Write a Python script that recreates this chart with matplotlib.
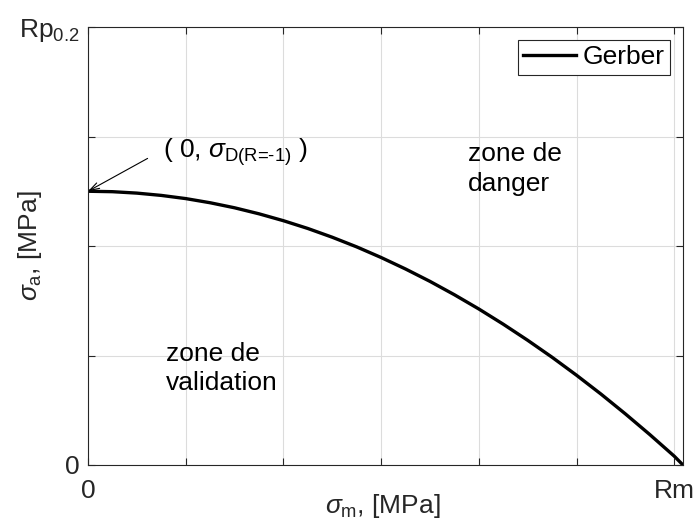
import matplotlib
matplotlib.use("Agg")
import matplotlib.pyplot as plt

plt.rcParams['font.family'] = ['Liberation Sans', 'DejaVu Sans']
plt.rcParams['mathtext.fontset'] = 'custom'
plt.rcParams['mathtext.rm'] = 'Liberation Sans'
plt.rcParams['mathtext.it'] = 'Liberation Sans:italic'
plt.rcParams['mathtext.bf'] = 'Liberation Sans:bold'

# Gerber curve, normalised units (grid step = 1)
sigma_m = [0.0, 0.25, 0.5, 0.75, 1.0, 1.25, 1.5, 1.75, 2.0, 2.25, 2.5, 2.75, 3.0,
           3.25, 3.5, 3.75, 4.0, 4.25, 4.5, 4.75, 5.0, 5.25, 5.5, 5.75, 6.0, 6.09]
sigma_a = [2.500, 2.496, 2.483, 2.462, 2.433, 2.395, 2.349, 2.294, 2.231, 2.160,
           2.080, 1.992, 1.895, 1.790, 1.677, 1.555, 1.425, 1.286, 1.139, 0.984,
           0.820, 0.648, 0.467, 0.278, 0.081, 0.0]

x_ticks = [0, 1, 2, 3, 4, 5, 6]
x_labels = ['0', '', '', '', '', '', 'Rm']
y_ticks = [0, 1, 2, 3, 4]
y_labels = ['0', '', '', '', r'Rp$_{0.2}$']
x_max = 6.09
y_max = 4.0

fs = 19
dark = '#262626'

fig = plt.figure(figsize=(6.94, 5.24), dpi=100)
ax = fig.add_axes([88 / 694, 59 / 524, 595 / 694, 438 / 524])

ax.plot(sigma_m, sigma_a, color='black', linewidth=2.4, label='Gerber')

ax.set_xlim(0, x_max)
ax.set_ylim(0, y_max)
ax.set_xticks(x_ticks)
ax.set_xticklabels(x_labels)
ax.set_yticks(y_ticks)
ax.set_yticklabels(y_labels)
ax.tick_params(direction='in', length=5, width=0.8, colors=dark, labelsize=fs,
               top=True, right=True)
ax.tick_params(axis='x', pad=10)
ax.tick_params(axis='y', pad=6)
ax.grid(True, color='#dcdcdc', linewidth=0.8)
ax.set_axisbelow(True)
for s in ax.spines.values():
    s.set_color(dark)
    s.set_linewidth(0.8)

ax.set_xlabel(r'$\sigma_{\mathrm{m}}$, [MPa]', fontsize=fs, color=dark)
ax.xaxis.set_label_coords(0.495, -0.062)
ax.set_ylabel(r'$\sigma_{\mathrm{a}}$, [MPa]', fontsize=fs, color=dark)
ax.yaxis.set_label_coords(-0.074, 0.5)

leg = ax.legend(loc='upper right', fontsize=fs, handlelength=2.0, handletextpad=0.25,
                borderpad=0.2, borderaxespad=0.5, fancybox=False, framealpha=1)
leg.get_frame().set_edgecolor(dark)
leg.get_frame().set_linewidth(0.8)

# annotation pointing at the fatigue limit
ax.annotate('', xy=(sigma_m[0], sigma_a[0]), xytext=(0.61, 2.80),
            arrowprops=dict(arrowstyle='->,head_length=0.7,head_width=0.22',
                            color='black', lw=0.8, shrinkA=0, shrinkB=0))
ax.text(0.77, 2.81, r'( 0, $\sigma_{\text{D(R=-1)}}$ )', fontsize=fs, va='baseline', ha='left')

ax.text(0.80, 0.88, 'zone de\nvalidation', fontsize=fs, va='center', ha='left', linespacing=1.3)
ax.text(3.89, 2.70, 'zone de\ndanger', fontsize=fs, va='center', ha='left', linespacing=1.3)

fig.savefig('out.png', dpi=100)
